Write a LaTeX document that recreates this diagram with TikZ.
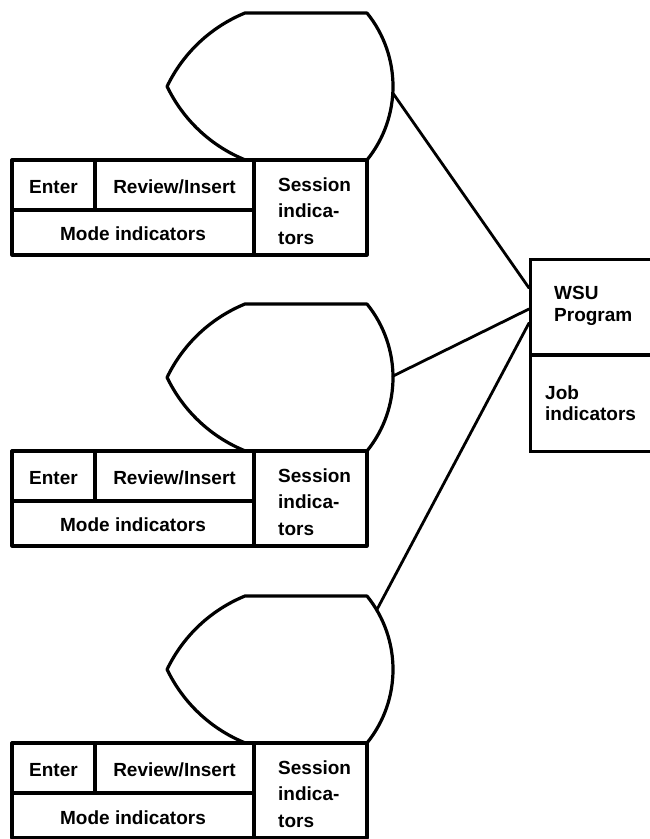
\documentclass[tikz,border=0pt]{standalone}
\usepackage{fontspec}
\setmainfont{Liberation Sans}
\newcommand\lblfont{\fontsize{19}{22}\selectfont\bfseries}

\tikzset{
  x=1pt, y=1pt,
  outline/.style={line width=3.2pt, line join=round},
  wire/.style={line width=2.8pt, line cap=round},
  lbl/.style={inner sep=0pt, font=\lblfont},
  % one display station: screen face above its indicator panel,
  % origin at the top-left corner of the screen face
  screen/.pic={
    \draw[outline] (0,0)
      arc[start angle=112.2, end angle=154.4, radius=148.7]
      arc[start angle=205.6, end angle=247.8, radius=148.7]
      -- (122,-147)
      arc[start angle=-38.96, end angle=38.96, radius=116.9]
      -- cycle;
    \coordinate (-arc) at (31.1,-73.5);
    % indicator panel
    \draw[outline] (-233,-147) rectangle (122,-242);
    \draw[outline] (-233,-197) -- (9,-197);
    \draw[outline] (-150,-147) -- (-150,-197);
    \draw[outline] (9,-147) -- (9,-242);
    \node[lbl, anchor=base] (-enter) at (-191.5,-181) {Enter};
    \node[lbl, anchor=base] (-review) at (-70.5,-181) {Review/Insert};
    \node[lbl, anchor=base] (-mode) at (-112,-228) {Mode indicators};
    \node[lbl, anchor=base west] (-sessA) at (33,-179) {Session};
    \node[lbl, anchor=base west] (-sessB) at (33,-205) {indica-};
    \node[lbl, anchor=base west] (-sessC) at (33,-232) {tors};
  }
}

\begin{document}
\begin{tikzpicture}
\useasboundingbox (0,0) rectangle (650,839);
\fill[white] (0,0) rectangle (650,839);

% three display stations
\pic (d1) at (245,826) {screen};
\pic (d2) at (245,535) {screen};
\pic (d3) at (245,243) {screen};

% program box on the right
\node[draw, line width=3.2pt, anchor=north west, inner sep=0pt,
      minimum width=140pt, minimum height=192pt] (wsu) at (529,581) {};
\draw[outline] (529,484) -- (670,484);
\node[lbl, anchor=base west] (wsuA) at (554,539) {WSU};
\node[lbl, anchor=base west] (wsuB) at (554,517) {Program};
\node[lbl, anchor=base west] (jobA) at (545,439) {Job};
\node[lbl, anchor=base west] (jobB) at (545,418) {indicators};

% connection points
\path (d1-arc) ++(-3.2:116.9) coordinate (d1-port);
\path (d2-arc) ++(0.7:116.9) coordinate (d2-port);
\path (d3-arc) ++(30.6:116.9) coordinate (d3-port);
\coordinate (in1) at (529,551);
\coordinate (in2) at (529,530);
\coordinate (in3) at (529,516);

\draw[wire] (d1-port) -- (in1);
\draw[wire] (d2-port) -- (in2);
\draw[wire] (d3-port) -- (in3);
\end{tikzpicture}
\end{document}
